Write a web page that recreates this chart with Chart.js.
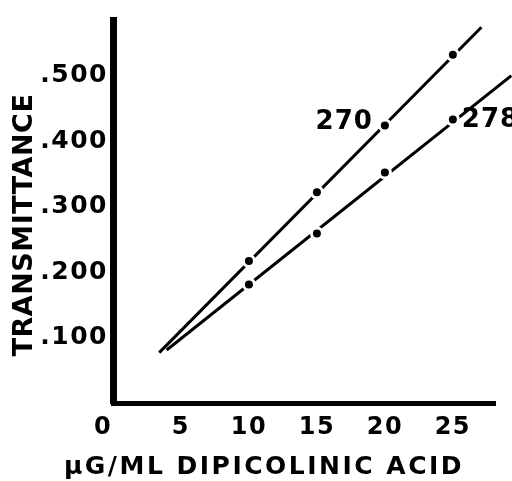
<!DOCTYPE html>
<html>
<head>
<meta charset="utf-8">
<script src="https://cdn.jsdelivr.net/npm/chart.js@4/dist/chart.umd.min.js"></script>
<style>
  html, body { margin: 0; padding: 0; background: #fff; }
  #wrap { width: 512px; height: 481px; position: relative; }
</style>
</head>
<body>
<div id="wrap"><canvas id="chart"></canvas></div>
<script>
// measured points (ug/ml, transmittance)
const concentration = [10, 15, 20, 25];
const trans270 = [0.217, 0.322, 0.424, 0.532];
const trans278 = [0.181, 0.259, 0.352, 0.433];

// ends of the drawn straight lines
const line270X = [3.4, 27.1];
const line270Y = [0.077, 0.574];
const line278X = [3.95, 29.3];
const line278Y = [0.081, 0.500];

const seriesNames = ["270", "278"];
const xTicks = [0, 5, 10, 15, 20, 25];
const yTicks = [0.1, 0.2, 0.3, 0.4, 0.5];

const FONT = "'DejaVu Sans', sans-serif";

const pts = (xs, ys) => xs.map((x, i) => ({ x: x, y: ys[i] }));

const lineStyle = {
	type: "line",
	borderColor: "#000",
	borderWidth: 3,
	pointRadius: 0,
	fill: false,
	tension: 0,
	clip: false,
	order: 3,
};
const gapStyle = {
	type: "scatter",
	pointRadius: 7,
	pointBackgroundColor: "#fff",
	pointBorderWidth: 0,
	order: 2,
};
const dotStyle = {
	type: "scatter",
	pointRadius: 4,
	pointBackgroundColor: "#000",
	pointBorderWidth: 0,
	order: 1,
};

const data = {
	datasets: [
		{ ...lineStyle, data: pts(line270X, line270Y) },
		{ ...lineStyle, data: pts(line278X, line278Y) },
		{ ...gapStyle, data: pts(concentration, trans270) },
		{ ...gapStyle, data: pts(concentration, trans278) },
		{ ...dotStyle, data: pts(concentration, trans270) },
		{ ...dotStyle, data: pts(concentration, trans278) },
	],
};

// titles and curve labels, drawn by hand for letter spacing
const textPlugin = {
	id: "texts",
	beforeDraw(chart) {
		chart.ctx.letterSpacing = "1.5px";
	},
	afterDraw(chart) {
		const ctx = chart.ctx;
		const x = chart.scales.x;
		const y = chart.scales.y;
		ctx.save();
		ctx.fillStyle = "#000";
		ctx.textBaseline = "middle";

		ctx.letterSpacing = "0.5px";
		ctx.font = "bold 27px " + FONT;
		ctx.textAlign = "center";
		ctx.save();
		ctx.translate(25, 225);
		ctx.rotate(-Math.PI / 2);
		ctx.fillText("TRANSMITTANCE", 0, 0);
		ctx.restore();

		ctx.letterSpacing = "2.5px";
		ctx.font = "bold 25px " + FONT;
		ctx.fillText("\u00b5G/ML DIPICOLINIC ACID", 264, 467);

		ctx.letterSpacing = "1px";
		ctx.font = "bold 26px " + FONT;
		ctx.textAlign = "right";
		ctx.fillText(seriesNames[0], x.getPixelForValue(concentration[2]) - 12, y.getPixelForValue(trans270[2]) - 3);
		ctx.textAlign = "left";
		ctx.fillText(seriesNames[1], x.getPixelForValue(concentration[3]) + 9, y.getPixelForValue(trans278[3]) + 1);
		ctx.restore();
	},
};

const options = {
	responsive: true,
	maintainAspectRatio: false,
	animation: false,
	layout: { padding: { top: 15, right: 17, left: 0, bottom: 0 } },
	plugins: {
		legend: { display: false },
		tooltip: { enabled: false },
	},
	scales: {
		x: {
			type: "linear",
			min: 0,
			max: 28.1,
			afterFit: (s) => { s.height = 78; },
			afterBuildTicks: (s) => { s.ticks = xTicks.map((v) => ({ value: v })); },
			grid: { display: false, drawTicks: false },
			border: { display: true, color: "#000", width: 5 },
			ticks: {
				color: "#000",
				padding: 10,
				maxRotation: 0,
				font: { family: FONT, size: 24, weight: "bold" },
				callback: (v) => (v === 0 ? "0  " : String(v)),
			},
		},
		y: {
			type: "linear",
			min: 0,
			max: 0.585,
			afterFit: (s) => { s.width = 113; },
			afterBuildTicks: (s) => { s.ticks = yTicks.map((v) => ({ value: v })); },
			grid: { display: false, drawTicks: false },
			border: { display: true, color: "#000", width: 7 },
			ticks: {
				color: "#000",
				padding: 5,
				font: { family: FONT, size: 25, weight: "bold" },
				callback: (v) => "." + Math.round(v * 1000),
			},
		},
	},
};

new Chart(document.getElementById("chart"), {
	data: data,
	options: options,
	plugins: [textPlugin],
});
</script>
</body>
</html>
